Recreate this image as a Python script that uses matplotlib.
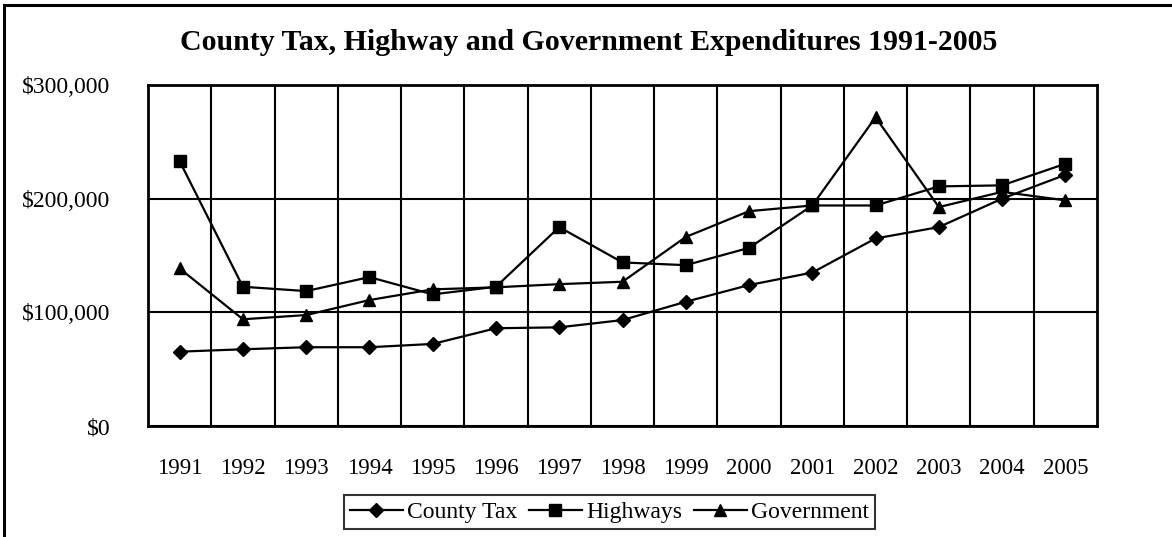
import matplotlib
matplotlib.use("Agg")
import matplotlib.pyplot as plt
import matplotlib.ticker as ticker
from matplotlib.patches import Rectangle

# ── Data ─────────────────────────────────────────────────────────────────
years = ["1991", "1992", "1993", "1994", "1995", "1996", "1997", "1998",
         "1999", "2000", "2001", "2002", "2003", "2004", "2005"]
county_tax = [65400, 67500, 69300, 69300, 72200, 86000, 86800, 93200,
              109300, 124000, 135000, 165000, 175000, 200000, 221000]
highways = [233000, 122500, 118700, 131000, 115800, 122500, 175000, 143900,
            141500, 156700, 194000, 194000, 210800, 211700, 230700]
government = [138600, 93900, 97600, 110800, 120200, 122000, 124800, 126900,
              166300, 189000, 194000, 271600, 192600, 206000, 198500]

SERIES = [
    ("County Tax", county_tax, dict(marker="D", markersize=7)),
    ("Highways", highways, dict(marker="s", markersize=8.5)),
    ("Government", government, dict(marker="^", markersize=8.5)),
]

plt.rcParams.update({
    "font.family": "Liberation Serif",
    "font.size": 17,
})

W, H = 1172, 537
fig = plt.figure(figsize=(W / 100, H / 100), dpi=100)
ax = fig.add_axes([148 / W, 1 - 426 / H, (1097 - 148) / W, (426 - 85) / H])

x = list(range(len(years)))
for label, vals, style in SERIES:
    ax.plot(x, vals, color="black", linewidth=1.6, label=label,
            markerfacecolor="black", markeredgecolor="black", **style)

ax.set_xlim(-0.5, len(years) - 0.5)
ax.set_ylim(0, 300000)
ax.set_xticks(x)
ax.set_xticklabels(years, fontsize=16.5)
ax.set_xticks([i + 0.5 for i in range(len(years) - 1)], minor=True)
ax.set_yticks([0, 100000, 200000, 300000])
ax.yaxis.set_major_formatter(ticker.FuncFormatter(lambda v, _: f"${v:,.0f}"))

ax.tick_params(axis="x", which="both", length=0, pad=23)
ax.tick_params(axis="y", length=0, pad=27, labelsize=17)
ax.grid(True, which="minor", axis="x", color="black", linewidth=1.5)
ax.grid(True, which="major", axis="y", color="black", linewidth=1.5)
ax.set_axisbelow(True)
for sp in ax.spines.values():
    sp.set_linewidth(2)

# Excel centres the title on the whole chart area, not the plot area
fig.text(589 / W, 1 - 42 / H,
         "County Tax, Highway and Government Expenditures 1991-2005",
         ha="center", va="center", fontsize=21.5, fontweight="bold")

leg = fig.legend(loc="center", bbox_to_anchor=(609.5 / W, 1 - 512 / H),
                 ncol=3, frameon=True, fancybox=False, fontsize=17,
                 handlelength=2.25, handletextpad=0.2, columnspacing=0.47,
                 borderpad=0.25, borderaxespad=0)
leg.get_frame().set_edgecolor("black")
leg.get_frame().set_linewidth(1.5)

# outer chart-area frame (only top and left edges visible in reference)
fig.patches.append(Rectangle((4 / W, -0.1), 1.2, 1 - 5 / H + 0.1,
                             transform=fig.transFigure, fill=False,
                             edgecolor="black", linewidth=2.2))

fig.savefig("out.png", dpi=100)
